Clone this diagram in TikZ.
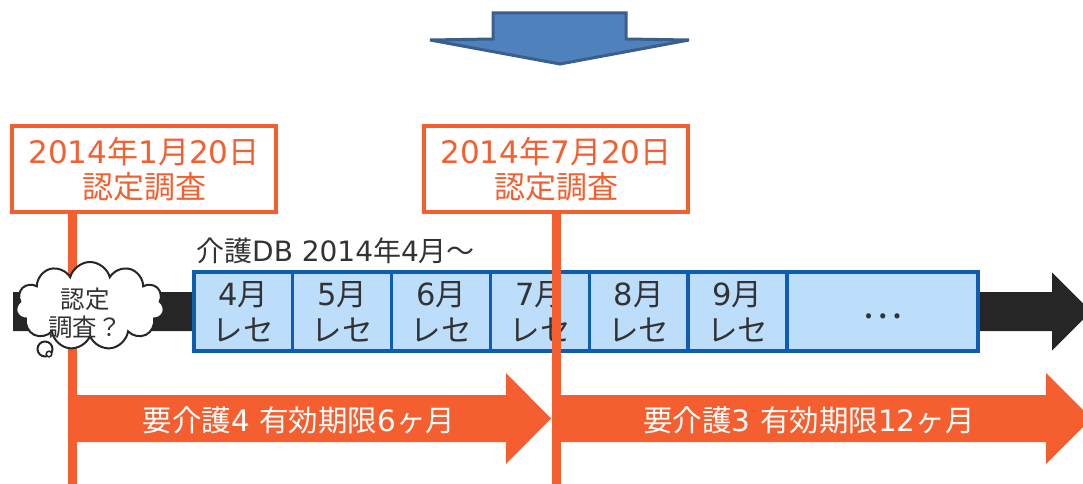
\documentclass[tikz,border=0pt]{standalone}
\usepackage{fontspec}
\newfontfamily\jp{Noto Sans CJK JP}
\newfontfamily\dvf{DejaVu Sans}
\usetikzlibrary{shapes.symbols}
\definecolor{orng}{HTML}{F55F2F}
\definecolor{bblue}{HTML}{4F81BD}
\definecolor{bbord}{HTML}{3A5F8C}
\definecolor{rfill}{HTML}{BDDEFB}
\definecolor{rbord}{HTML}{0F5DB0}
\definecolor{dark}{HTML}{262626}
\definecolor{tgray}{HTML}{333333}
\newcommand{\dg}[1]{{\dvf #1}}
\pgfdeclarelayer{l0}
\pgfdeclarelayer{l1}
\pgfdeclarelayer{l2}
\pgfsetlayers{l0,l1,l2,main}
\begin{document}
\begin{tikzpicture}[x=1pt,y=-1pt,
  rece/.style={draw=rbord, fill=rfill, line width=3.2pt, minimum height=79pt, inner sep=0pt, align=center, text=tgray, font=\jp\fontsize{30.5}{36}\selectfont},
  datebox/.style={draw=orng, fill=white, line width=3.8pt, minimum width=264pt, minimum height=86pt, inner sep=0pt, align=center, text=orng, font=\jp\fontsize{31}{35}\selectfont},
  vline/.style={draw=orng, line width=9pt},
  arrowtext/.style={text=white, font=\jp\fontsize{29.5}{34}\selectfont, inner sep=0pt},
  blockarrow/.style={fill=orng, draw=none},
]
\useasboundingbox (0,0) rectangle (1083,484);
\clip (0,0) rectangle (1083,484);

% top blue arrow
\draw[fill=bblue, draw=bbord, line width=3pt, line join=miter]
  (493,13) -- (626,13) -- (626,39) -- (689,40) -- (560,64) -- (430,40) -- (493,39) -- cycle;

% date boxes
\node[datebox] (box1) at (144,169) {\dg{2014}年\dg{1}月\dg{20}日\\認定調査};
\node[datebox] (box2) at (556,169) {\dg{2014}年\dg{7}月\dg{20}日\\認定調査};

\coordinate (l1) at (72,484);
\coordinate (l2) at (556,484);

\begin{pgfonlayer}{l0}
  % black timeline arrow
  \fill[dark] (13,292) -- (1052,292) -- (1052,272.5) -- (1091,311.5) -- (1052,350.5) -- (1052,331) -- (13,331) -- cycle;
  \draw[vline] (box1.south -| l1) -- (l1);
\end{pgfonlayer}

\begin{pgfonlayer}{l1}
  \node[cloud, cloud puffs=11, aspect=1.8, cloud ignores aspect, draw=dark, fill=white, line width=2pt,
        minimum width=148pt, minimum height=88pt, inner sep=0pt] (cloud) at (90,306) {};
  \draw[dark, fill=white, line width=2pt] (45,349) circle[radius=7.5pt];
  \draw[dark, fill=white, line width=1.5pt] (49,354) circle[radius=2.8pt];
  \node[text=tgray, align=center, inner sep=0pt, font=\jp\fontsize{24.5}{28}\selectfont] (cloudtext) at (85,313) {認定\\調査？};

  \node[text=tgray, anchor=west, inner sep=0pt, font=\jp\fontsize{28}{32}\selectfont] (dblabel) at (196,251) {介護\dg{DB 2014}年\dg{4}月～};

  \node[rece, minimum width=98.5pt] (r4) at (243.25,311.5) {\dg{4}月\\レセ};
  \node[rece, minimum width=99pt] (r5) at (342,311.5) {\dg{5}月\\レセ};
  \node[rece, minimum width=99pt] (r6) at (441,311.5) {\dg{6}月\\レセ};
  \node[rece, minimum width=99pt] (r7) at (540,311.5) {\dg{7}月\\レセ};
  \node[rece, minimum width=98.5pt] (r8) at (638.75,311.5) {\dg{8}月\\レセ};
  \node[rece, minimum width=99pt] (r9) at (737.5,311.5) {\dg{9}月\\レセ};
  \node[rece, minimum width=191pt] (rd) at (882.5,311.5) {};
  \node[text=tgray, inner sep=0pt, font=\jp\fontsize{38}{40}\selectfont] (dots) at (882.5,316.5) {…};
\end{pgfonlayer}

\begin{pgfonlayer}{l2}
  \draw[vline] (box2.south) -- (l2);
  \fill[blockarrow] (72,395) -- (506,395) -- (506,373) -- (551,418.5) -- (506,464) -- (506,442) -- (72,442) -- cycle;
  \fill[blockarrow] (556,395) -- (1046,395) -- (1046,373) -- (1091.5,418.5) -- (1046,464) -- (1046,442) -- (556,442) -- cycle;
  \node[arrowtext] (a1) at (299,420) {要介護\dg{4 }有効期限\dg{6}ヶ月};
  \node[arrowtext] (a2) at (809,420) {要介護\dg{3 }有効期限\dg{12}ヶ月};
\end{pgfonlayer}
\end{tikzpicture}
\end{document}
